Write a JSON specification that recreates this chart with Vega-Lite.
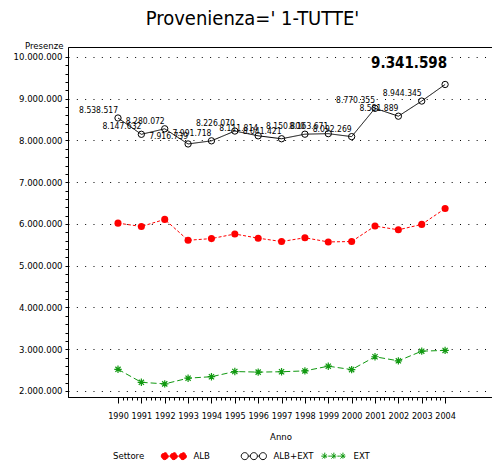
{
  "$schema": "https://vega.github.io/schema/vega-lite/v6.json",
  "width": 425,
  "height": 350,
  "autosize": "none",
  "padding": {"left": 68, "top": 47, "right": 0, "bottom": 70},
  "background": "white",
  "config": {
    "locale": {"number": {"decimal": ",", "thousands": ".", "grouping": [3], "currency": ["", " €"]}},
    "view": {"stroke": "black", "strokeWidth": 1},
    "font": "DejaVu Sans Condensed, serif"
  },
  "title": {
    "text": "Provenienza=' 1-TUTTE'",
    "font": "DejaVu Sans Condensed, serif",
    "fontSize": 20,
    "fontWeight": "normal",
    "color": "black",
    "anchor": "middle",
    "dx": -28,
    "offset": 11
  },
  "data": {
    "values": [
      {"year": 1990, "Settore": "ALB", "value": 6020000},
      {"year": 1991, "Settore": "ALB", "value": 5940000},
      {"year": 1992, "Settore": "ALB", "value": 6110000},
      {"year": 1993, "Settore": "ALB", "value": 5610000},
      {"year": 1994, "Settore": "ALB", "value": 5650000},
      {"year": 1995, "Settore": "ALB", "value": 5760000},
      {"year": 1996, "Settore": "ALB", "value": 5660000},
      {"year": 1997, "Settore": "ALB", "value": 5580000},
      {"year": 1998, "Settore": "ALB", "value": 5670000},
      {"year": 1999, "Settore": "ALB", "value": 5570000},
      {"year": 2000, "Settore": "ALB", "value": 5580000},
      {"year": 2001, "Settore": "ALB", "value": 5950000},
      {"year": 2002, "Settore": "ALB", "value": 5860000},
      {"year": 2003, "Settore": "ALB", "value": 5990000},
      {"year": 2004, "Settore": "ALB", "value": 6370000},
      {"year": 1990, "Settore": "ALB+EXT", "value": 8538517},
      {"year": 1991, "Settore": "ALB+EXT", "value": 8147632},
      {"year": 1992, "Settore": "ALB+EXT", "value": 8280072},
      {"year": 1993, "Settore": "ALB+EXT", "value": 7916739},
      {"year": 1994, "Settore": "ALB+EXT", "value": 7991718},
      {"year": 1995, "Settore": "ALB+EXT", "value": 8226070},
      {"year": 1996, "Settore": "ALB+EXT", "value": 8111814},
      {"year": 1997, "Settore": "ALB+EXT", "value": 8041421},
      {"year": 1998, "Settore": "ALB+EXT", "value": 8150800},
      {"year": 1999, "Settore": "ALB+EXT", "value": 8163671},
      {"year": 2000, "Settore": "ALB+EXT", "value": 8092269},
      {"year": 2001, "Settore": "ALB+EXT", "value": 8770355},
      {"year": 2002, "Settore": "ALB+EXT", "value": 8581889},
      {"year": 2003, "Settore": "ALB+EXT", "value": 8944345},
      {"year": 2004, "Settore": "ALB+EXT", "value": 9341598},
      {"year": 1990, "Settore": "EXT", "value": 2519000},
      {"year": 1991, "Settore": "EXT", "value": 2208000},
      {"year": 1992, "Settore": "EXT", "value": 2170000},
      {"year": 1993, "Settore": "EXT", "value": 2307000},
      {"year": 1994, "Settore": "EXT", "value": 2342000},
      {"year": 1995, "Settore": "EXT", "value": 2466000},
      {"year": 1996, "Settore": "EXT", "value": 2452000},
      {"year": 1997, "Settore": "EXT", "value": 2461000},
      {"year": 1998, "Settore": "EXT", "value": 2481000},
      {"year": 1999, "Settore": "EXT", "value": 2594000},
      {"year": 2000, "Settore": "EXT", "value": 2512000},
      {"year": 2001, "Settore": "EXT", "value": 2820000},
      {"year": 2002, "Settore": "EXT", "value": 2722000},
      {"year": 2003, "Settore": "EXT", "value": 2954000},
      {"year": 2004, "Settore": "EXT", "value": 2972000}
    ]
  },
  "encoding": {
    "x": {
      "field": "year",
      "type": "quantitative",
      "scale": {"domain": [1987.86, 2006.05], "nice": false, "zero": false},
      "axis": {
        "title": "Anno",
        "values": [1990, 1990.2, 1990.4, 1990.6, 1990.8, 1991, 1991.2, 1991.4, 1991.6, 1991.8, 1992, 1992.2, 1992.4, 1992.6, 1992.8, 1993, 1993.2, 1993.4, 1993.6, 1993.8, 1994, 1994.2, 1994.4, 1994.6, 1994.8, 1995, 1995.2, 1995.4, 1995.6, 1995.8, 1996, 1996.2, 1996.4, 1996.6, 1996.8, 1997, 1997.2, 1997.4, 1997.6, 1997.8, 1998, 1998.2, 1998.4, 1998.6, 1998.8, 1999, 1999.2, 1999.4, 1999.6, 1999.8, 2000, 2000.2, 2000.4, 2000.6, 2000.8, 2001, 2001.2, 2001.4, 2001.6, 2001.8, 2002, 2002.2, 2002.4, 2002.6, 2002.8, 2003, 2003.2, 2003.4, 2003.6, 2003.8, 2004],
        "tickCount": 500,
        "tickMinStep": 0.05,
        "format": "d",
        "labelExpr": "datum.value % 1 === 0 ? datum.label : ''",
        "labelOverlap": false,
        "labelFlush": false,
        "grid": false,
        "domainColor": "black",
        "tickColor": "black",
        "tickSize": {"condition": {"test": "datum.value % 1 === 0", "value": 6}, "value": 3},
        "labelColor": "black",
        "labelFont": "DejaVu Sans Condensed, serif",
        "labelFontSize": 9,
        "labelPadding": 8,
        "titleFont": "DejaVu Sans Condensed, serif",
        "titleFontSize": 9.5,
        "titleFontWeight": "normal",
        "titleColor": "black",
        "titlePadding": 11
      }
    },
    "y": {
      "field": "value",
      "type": "quantitative",
      "scale": {"domain": [1856000, 10239000], "nice": false, "zero": false},
      "axis": {
        "title": "Presenze",
        "titleAngle": 0,
        "titleAlign": "right",
        "titleBaseline": "middle",
        "titleX": -5,
        "titleY": -2,
        "titleFont": "DejaVu Sans Condensed, serif",
        "titleFontSize": 9.5,
        "titleFontWeight": "normal",
        "titleColor": "black",
        "values": [2000000, 2200000, 2400000, 2600000, 2800000, 3000000, 3200000, 3400000, 3600000, 3800000, 4000000, 4200000, 4400000, 4600000, 4800000, 5000000, 5200000, 5400000, 5600000, 5800000, 6000000, 6200000, 6400000, 6600000, 6800000, 7000000, 7200000, 7400000, 7600000, 7800000, 8000000, 8200000, 8400000, 8600000, 8800000, 9000000, 9200000, 9400000, 9600000, 9800000, 10000000],
        "tickCount": 500,
        "tickMinStep": 1000,
        "format": ",.0f",
        "labelExpr": "datum.value % 1000000 === 0 ? datum.label : ''",
        "labelOverlap": false,
        "labelFlush": false,
        "labelColor": "black",
        "labelFont": "DejaVu Sans Condensed, serif",
        "labelFontSize": 9.5,
        "labelPadding": 3,
        "domainColor": "black",
        "tickColor": "black",
        "tickSize": 3,
        "grid": true,
        "gridColor": "black",
        "gridDash": [1, 7.33],
        "gridWidth": 1,
        "gridOpacity": {"condition": {"test": "datum.value % 1000000 === 0", "value": 1}, "value": 0}
      }
    }
  },
  "layer": [
    {
      "mark": {"type": "line", "strokeWidth": 1},
      "encoding": {
        "color": {
          "field": "Settore",
          "type": "nominal",
          "scale": {"domain": ["ALB", "ALB+EXT", "EXT"], "range": ["#ff0000", "#000000", "#119911"]},
          "legend": {
            "orient": "none",
            "legendX": 45,
            "legendY": 404,
            "direction": "horizontal",
            "title": "Settore",
            "titleOrient": "left",
            "titleFont": "DejaVu Sans Condensed, serif",
            "titleFontSize": 9.5,
            "titleFontWeight": "normal",
            "titleColor": "black",
            "titlePadding": 15,
            "labelFont": "DejaVu Sans Condensed, serif",
            "labelFontSize": 9.5,
            "labelColor": "black",
            "labelOffset": 24,
            "symbolSize": 49,
            "symbolStrokeWidth": 1,
            "columnPadding": 5,
            "gridAlign": "all",
            "encode": {
              "symbols": {
                "update": {
                  "shape": {"signal": "datum.value === 'EXT' ? 'M-1,0L1,0M0,-1L0,1M-0.7,-0.7L0.7,0.7M-0.7,0.7L0.7,-0.7M1.6,0L3.6,0M2.6,-1L2.6,1M1.9,-0.7L3.3,0.7M1.9,0.7L3.3,-0.7M4.2,0L6.2,0M5.2,-1L5.2,1M4.5,-0.7L5.9,0.7M4.5,0.7L5.9,-0.7M1,0L1.6,0M3.6,0L4.2,0' : 'M-1,0A1,1 0 1,1 1,0A1,1 0 1,1 -1,0M1.6,0A1,1 0 1,1 3.6,0A1,1 0 1,1 1.6,0M4.2,0A1,1 0 1,1 6.2,0A1,1 0 1,1 4.2,0M1,0L1.6,0M3.6,0L4.2,0'"},
                  "fill": {"signal": "datum.value === 'ALB' ? '#ff0000' : 'transparent'"},
                  "stroke": {"signal": "datum.value === 'ALB' ? '#ff0000' : datum.value === 'EXT' ? '#119911' : '#000000'"},
                  "strokeDash": {"value": [1, 0]},
                  "strokeWidth": {"value": 1}
                }
              }
            }
          }
        },
        "strokeDash": {
          "field": "Settore",
          "type": "nominal",
          "scale": {"domain": ["ALB", "ALB+EXT", "EXT"], "range": [[3, 2], [1, 0], [6, 3]]},
          "legend": null
        }
      }
    },
    {
      "transform": [{"filter": "datum.Settore === 'ALB'"}],
      "mark": {"type": "point", "shape": "circle", "filled": true, "size": 50, "color": "#ff0000", "opacity": 1}
    },
    {
      "transform": [{"filter": "datum.Settore === 'ALB+EXT'"}],
      "mark": {"type": "point", "shape": "circle", "filled": false, "size": 40, "color": "#000000", "strokeWidth": 1, "opacity": 1}
    },
    {
      "transform": [{"filter": "datum.Settore === 'EXT'"}],
      "mark": {"type": "point", "shape": "M-1,0L1,0M0,-1L0,1M-0.7,-0.7L0.7,0.7M-0.7,0.7L0.7,-0.7", "filled": false, "size": 55, "color": "#119911", "strokeWidth": 1.2, "opacity": 1}
    },
    {
      "transform": [{"filter": "datum.Settore === 'ALB+EXT' && datum.year < 2004"}],
      "mark": {"type": "text", "align": "right", "baseline": "alphabetic", "dx": 0, "dy": -5, "font": "DejaVu Sans Condensed, serif", "fontSize": 8.5, "color": "black"},
      "encoding": {"text": {"field": "value", "type": "quantitative", "format": ",.0f"}}
    },
    {
      "transform": [{"filter": "datum.Settore === 'ALB+EXT' && datum.year === 2004"}],
      "mark": {"type": "text", "align": "right", "baseline": "alphabetic", "dx": 2, "dy": -16, "font": "DejaVu Sans Condensed, serif", "fontSize": 15, "fontWeight": "bold", "color": "black"},
      "encoding": {"text": {"field": "value", "type": "quantitative", "format": ",.0f"}}
    }
  ]
}
